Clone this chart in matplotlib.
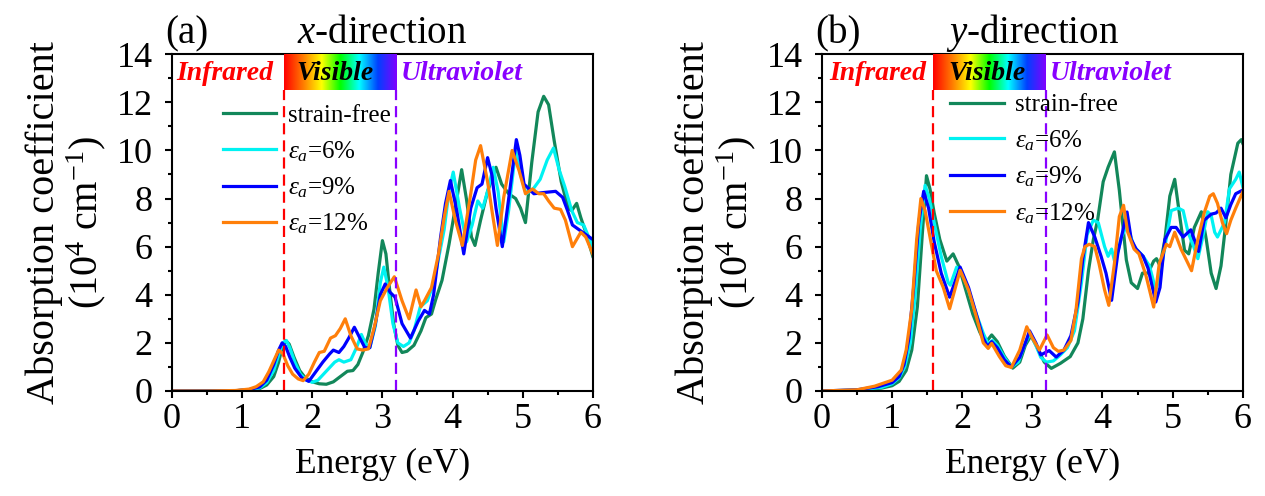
import matplotlib
matplotlib.use("Agg")
import matplotlib.pyplot as plt
import numpy as np
from matplotlib.colors import LinearSegmentedColormap
from matplotlib.ticker import MultipleLocator
from matplotlib.transforms import offset_copy

plt.rcParams["font.family"] = ["Liberation Serif", "DejaVu Serif"]
plt.rcParams["mathtext.fontset"] = "custom"
plt.rcParams["mathtext.rm"] = "Liberation Serif"
plt.rcParams["mathtext.it"] = "Liberation Serif:italic"
plt.rcParams["mathtext.bf"] = "Liberation Serif:bold"

# ---- (a) x-direction ----
ax_sf_e = [0, 0.5, 0.9, 1.1, 1.25, 1.35, 1.45, 1.52, 1.57, 1.62, 1.67, 1.74, 1.82, 1.9, 2.0, 2.1,
           2.2, 2.3, 2.4, 2.5, 2.58, 2.65, 2.72, 2.8, 2.88, 2.94, 3.0, 3.05, 3.1, 3.16, 3.22, 3.28,
           3.35, 3.45, 3.55, 3.62, 3.7, 3.76, 3.85, 3.95, 4.05, 4.13, 4.2, 4.27, 4.32, 4.4, 4.5,
           4.62, 4.7, 4.8, 4.9, 4.97, 5.04, 5.13, 5.22, 5.3, 5.37, 5.45, 5.55, 5.65, 5.7, 5.77,
           5.83, 5.9, 6.0]
ax_sf_a = [0, 0, 0.01, 0.04, 0.1, 0.25, 0.6, 1.2, 1.8, 2.1, 1.95, 1.4, 0.85, 0.55, 0.38, 0.3,
           0.28, 0.38, 0.6, 0.82, 0.85, 1.1, 1.6, 2.3, 3.4, 4.9, 6.25, 5.7, 4.3, 2.8, 1.9, 1.6,
           1.65, 1.9, 2.5, 3.05, 3.2, 3.8, 4.6, 6.1, 7.8, 9.2, 7.95, 6.4, 6.05, 7.1, 8.3,
           9.3, 8.6, 8.2, 8.0, 7.6, 7.0, 9.5, 11.6, 12.25, 11.9, 10.4, 8.7, 7.6, 7.5, 7.8,
           7.2, 6.6, 5.6]

ax_6_e = [0, 0.5, 0.9, 1.1, 1.25, 1.35, 1.45, 1.52, 1.58, 1.63, 1.68, 1.75, 1.83, 1.92, 2.0, 2.08,
          2.16, 2.24, 2.32, 2.38, 2.45, 2.55, 2.63, 2.7, 2.76, 2.82, 2.9, 2.97, 3.02, 3.08, 3.15,
          3.22, 3.3, 3.38, 3.45, 3.54, 3.64, 3.73, 3.8, 3.88, 3.95, 4.01, 4.1, 4.2, 4.28, 4.36,
          4.43, 4.5, 4.58, 4.65, 4.73, 4.8, 4.9, 4.97, 5.05, 5.15, 5.25, 5.35, 5.44, 5.52, 5.6,
          5.7, 5.78, 5.87, 6.0]
ax_6_a = [0, 0, 0.01, 0.05, 0.13, 0.35, 0.85, 1.5, 2.0, 2.1, 1.8, 1.2, 0.7, 0.45, 0.36, 0.45,
          0.7, 0.95, 1.2, 1.3, 1.2, 1.3, 1.8, 2.35, 1.95, 1.8, 2.7, 4.5, 5.15, 4.3, 2.8,
          2.0, 1.85, 2.0, 2.5, 3.5, 3.75, 4.45, 5.5, 6.7, 8.3, 9.1, 7.6, 6.2, 6.9, 7.9,
          7.6, 8.3, 9.3, 8.3, 6.2, 7.5, 10.0, 9.0, 8.2, 8.4, 8.8, 9.6, 10.1, 9.2, 8.5,
          7.5, 7.0, 6.9, 6.0]

ax_9_e = [0, 0.5, 0.9, 1.1, 1.25, 1.35, 1.45, 1.52, 1.57, 1.62, 1.68, 1.75, 1.85, 1.95, 2.05, 2.15,
          2.25, 2.3, 2.38, 2.45, 2.52, 2.6, 2.67, 2.75, 2.82, 2.9, 2.97, 3.04, 3.11, 3.18, 3.28,
          3.4, 3.51, 3.6, 3.67, 3.73, 3.83, 3.9, 3.97, 4.06, 4.16, 4.26, 4.35, 4.42, 4.5, 4.56,
          4.62, 4.71, 4.81, 4.91, 4.96, 5.02, 5.16, 5.3, 5.47, 5.57, 5.64, 5.71, 5.83, 6.0]
ax_9_a = [0, 0, 0.01, 0.06, 0.17, 0.45, 1.1, 1.7, 2.0, 1.85, 1.4, 0.95, 0.55, 0.4, 0.8, 1.2,
          1.55, 1.7, 1.6, 1.85, 2.2, 2.65, 2.25, 1.8, 1.8, 2.8, 4.0, 4.45, 4.1, 3.9, 2.8,
          2.2, 2.9, 3.35, 3.2, 4.0, 6.4, 7.8, 8.75, 7.5, 5.7, 7.6, 8.45, 8.6, 9.7, 9.0,
          7.6, 6.0, 8.2, 10.45, 9.8, 8.6, 8.2, 8.25, 8.3, 8.05, 7.5, 6.9, 6.65, 6.3]

ax_12_e = [0, 0.5, 0.9, 1.1, 1.2, 1.3, 1.38, 1.45, 1.52, 1.58, 1.65, 1.72, 1.8, 1.87, 1.95, 2.03,
           2.1, 2.17, 2.26, 2.33, 2.4, 2.47, 2.55, 2.64, 2.72, 2.8, 2.88, 2.97, 3.07, 3.17, 3.28,
           3.38, 3.48, 3.55, 3.6, 3.7, 3.8, 3.88, 3.95, 4.04, 4.14, 4.26, 4.33, 4.4, 4.5, 4.57,
           4.64, 4.73, 4.85, 4.95, 5.04, 5.14, 5.23, 5.3, 5.37, 5.45, 5.54, 5.61, 5.71, 5.83,
           5.9, 6.0]
ax_12_a = [0, 0, 0.02, 0.08, 0.18, 0.38, 0.8, 1.25, 1.7, 1.55, 1.05, 0.7, 0.5, 0.43, 0.7, 1.2,
           1.6, 1.65, 2.2, 2.3, 2.6, 3.0, 2.3, 1.75, 1.7, 1.75, 2.6, 3.75, 4.3, 4.75, 3.75,
           3.0, 4.2, 3.5, 3.75, 4.3, 5.7, 7.2, 8.3, 7.1, 6.05, 8.2, 9.6, 10.2, 8.7, 7.35,
           6.05, 8.05, 10.0, 9.15, 8.2, 8.4, 8.2, 8.2, 7.9, 7.6, 7.55, 7.1, 6.0, 6.6,
           6.4, 5.7]

# ---- (b) y-direction ----
ay_sf_e = [0, 0.5, 0.85, 1.0, 1.1, 1.2, 1.28, 1.36, 1.43, 1.49, 1.54, 1.6, 1.68, 1.78, 1.87, 1.95,
           2.05, 2.15, 2.25, 2.33, 2.42, 2.5, 2.6, 2.72, 2.82, 2.9, 2.98, 3.07, 3.17, 3.27, 3.4,
           3.54, 3.65, 3.72, 3.8, 3.87, 3.93, 4.01, 4.08, 4.17, 4.24, 4.34, 4.41, 4.5, 4.57, 4.65,
           4.73, 4.77, 4.82, 4.89, 4.96, 5.03, 5.1, 5.17, 5.23, 5.31, 5.41, 5.48, 5.55, 5.62,
           5.69, 5.76, 5.83, 5.93, 5.98, 6.0]
ay_sf_a = [0, 0.03, 0.12, 0.22, 0.4, 0.85, 1.7, 3.5, 6.5, 8.95, 8.4, 7.4, 6.3, 5.4, 5.7, 5.2,
           4.2, 3.2, 2.45, 2.0, 2.33, 2.05, 1.45, 0.95, 1.2, 1.9, 2.3, 1.8, 1.2, 0.94, 1.15,
           1.43, 2.0, 3.0, 5.0, 6.3, 7.1, 8.7, 9.3, 9.94, 8.35, 5.45, 4.5, 4.26, 4.9, 4.9,
           5.4, 5.5, 5.2, 6.3, 8.1, 8.8, 7.3, 5.85, 5.7, 6.8, 7.45, 6.3, 4.9, 4.26,
           5.2, 7.0, 9.0, 10.3, 10.45, 10.3]

ay_6_e = [0, 0.5, 0.85, 1.0, 1.1, 1.18, 1.26, 1.33, 1.4, 1.47, 1.53, 1.6, 1.7, 1.8, 1.83, 1.92,
          2.0, 2.1, 2.2, 2.3, 2.37, 2.43, 2.5, 2.6, 2.7, 2.8, 2.9, 2.97, 3.05, 3.12, 3.2, 3.3,
          3.4, 3.5, 3.6, 3.7, 3.78, 3.87, 3.94, 4.03, 4.08, 4.13, 4.18, 4.27, 4.35, 4.45, 4.58,
          4.67, 4.76, 4.82, 4.89, 4.98, 5.08, 5.15, 5.22, 5.3, 5.36, 5.43, 5.5, 5.55, 5.6, 5.64,
          5.74, 5.81, 5.9, 5.95, 6.0]
ay_6_a = [0, 0.04, 0.15, 0.3, 0.55, 1.0, 2.0, 4.0, 6.7, 8.55, 8.0, 7.0, 5.6, 4.5, 4.4, 5.15,
          4.9, 4.1, 3.2, 2.4, 1.95, 2.1, 1.9, 1.4, 1.0, 1.2, 2.0, 2.4, 1.9, 1.4, 1.2, 1.25,
          1.5, 1.8, 2.5, 4.5, 6.5, 7.1, 7.0, 6.0, 5.6, 5.9, 5.3, 6.4, 6.9, 6.0, 5.6,
          5.2, 4.2, 4.8, 6.0, 7.5, 7.6, 7.5, 6.6, 6.0, 5.5, 6.4, 7.45, 7.3, 6.6, 6.4,
          7.0, 8.4, 8.8, 9.1, 8.5]

ay_9_e = [0, 0.5, 0.8, 1.0, 1.1, 1.17, 1.24, 1.31, 1.38, 1.45, 1.52, 1.6, 1.7, 1.82, 1.97, 2.09,
          2.2, 2.3, 2.36, 2.42, 2.5, 2.6, 2.7, 2.82, 2.9, 2.96, 3.05, 3.12, 3.24, 3.34, 3.45,
          3.55, 3.65, 3.72, 3.8, 3.89, 3.98, 4.05, 4.13, 4.22, 4.35, 4.41, 4.48, 4.58, 4.65, 4.76,
          4.82, 4.89, 4.98, 5.05, 5.15, 5.26, 5.37, 5.45, 5.55, 5.62, 5.69, 5.76, 5.83, 5.9, 6.0]
ay_9_a = [0, 0.05, 0.18, 0.35, 0.6, 1.1, 2.2, 4.4, 7.0, 8.3, 7.6, 6.2, 4.9, 3.9, 5.15, 4.3,
          3.2, 2.2, 1.85, 2.05, 1.8, 1.3, 1.0, 1.4, 2.0, 2.5, 2.0, 1.5, 1.68, 1.41, 1.7,
          2.3, 3.7, 5.5, 7.0, 6.4, 5.6, 4.9, 3.77, 5.75, 7.44, 6.3, 5.9, 5.6, 5.1, 3.7,
          4.3, 6.3, 6.8, 6.8, 6.4, 6.7, 5.8, 7.1, 7.35, 7.4, 7.6, 7.2, 7.75, 8.2, 8.35]

ay_12_e = [0, 0.5, 0.75, 1.0, 1.13, 1.2, 1.28, 1.35, 1.41, 1.47, 1.54, 1.63, 1.73, 1.82, 1.97,
           2.09, 2.2, 2.3, 2.37, 2.42, 2.53, 2.62, 2.7, 2.82, 2.92, 3.0, 3.1, 3.21, 3.3, 3.37,
           3.45, 3.55, 3.62, 3.7, 3.75, 3.81, 3.89, 3.95, 4.03, 4.09, 4.17, 4.24, 4.3, 4.36, 4.45,
           4.52, 4.62, 4.73, 4.81, 4.91, 4.96, 5.03, 5.12, 5.22, 5.27, 5.36, 5.45, 5.53, 5.58,
           5.64, 5.71, 5.77, 5.83, 5.9, 6.0]
ay_12_a = [0, 0.05, 0.2, 0.45, 0.87, 1.7, 3.4, 6.3, 8.0, 7.5, 6.4, 5.0, 4.3, 3.42, 5.02,
           4.2, 3.1, 2.0, 1.77, 1.98, 1.43, 1.05, 0.98, 1.7, 2.67, 2.2, 1.7, 2.33, 1.8, 1.65,
           1.7, 2.1, 3.3, 5.5, 6.0, 6.1, 6.0, 5.3, 4.2, 3.56, 5.3, 7.25, 7.72, 6.6, 5.9,
           5.7, 4.8, 3.49, 5.3, 6.1, 6.0, 6.6, 5.9, 5.3, 5.0, 6.3, 7.4, 8.1, 8.2,
           7.8, 7.0, 6.54, 7.1, 7.6, 8.27]

labels = ["strain-free", r"$\varepsilon_a$=6%", r"$\varepsilon_a$=9%", r"$\varepsilon_a$=12%"]
colors = ["#12875a", "#00f2f2", "#0000ff", "#ff7f0a"]
spectrum_colors = ["#ff0000", "#ff7a00", "#ffff00", "#00ff00", "#00ffff", "#0040ff", "#8000ff"]
ir_edge, uv_edge = 1.59, 3.2

panels = [
    ("(a)", r"$x$-direction",
     [(ax_sf_e, ax_sf_a), (ax_6_e, ax_6_a), (ax_9_e, ax_9_a), (ax_12_e, ax_12_a)],
     0.136, (0.12, 0.85), (0.06, 2.33, 3.26)),
    ("(b)", r"$y$-direction",
     [(ay_sf_e, ay_sf_a), (ay_6_e, ay_6_a), (ay_9_e, ay_9_a), (ay_12_e, ay_12_a)],
     0.6498, (0.305, 0.882), (0.11, 2.36, 3.25)),
]

spec_cmap = LinearSegmentedColormap.from_list("spec", spectrum_colors)

fig = plt.figure(figsize=(12.65, 4.96), dpi=100)
for tag, title, series, left, leg_anchor, txt_x in panels:
    ax = fig.add_axes([left, 0.2117, 0.3326, 0.679])
    for (e, a), lab, c in zip(series, labels, colors):
        ax.plot(e, a, color=c, lw=2.3, label=lab, solid_joinstyle="round")

    ax.imshow(np.linspace(0, 1, 256)[None, :], extent=[ir_edge, uv_edge, 12.5, 14],
              aspect="auto", cmap=spec_cmap, zorder=3)
    ax.plot([ir_edge, ir_edge], [0, 12.5], color="#ff0000", lw=1.6, dashes=(5, 2.7))
    ax.plot([uv_edge, uv_edge], [0, 12.5], color="#8800ff", lw=1.6, dashes=(5, 2.7))
    ax.text(txt_x[0], 13.2, "Infrared", color="#ff0000", fontsize=20,
            fontweight="bold", fontstyle="italic", ha="left", va="center", zorder=4)
    ax.text(txt_x[1], 13.2, "Visible", color="black", fontsize=20,
            fontweight="bold", fontstyle="italic", ha="center", va="center", zorder=4)
    ax.text(txt_x[2], 13.2, "Ultraviolet", color="#8800ff", fontsize=20,
            fontweight="bold", fontstyle="italic", ha="left", va="center", zorder=4)

    ax.set_xlim(0, 6)
    ax.set_ylim(0, 14)
    ax.xaxis.set_major_locator(MultipleLocator(1))
    ax.xaxis.set_minor_locator(MultipleLocator(0.5))
    ax.yaxis.set_major_locator(MultipleLocator(2))
    ax.yaxis.set_minor_locator(MultipleLocator(1))
    ax.tick_params(which="major", direction="out", length=5, width=1.5, labelsize=26, pad=4)
    ax.tick_params(axis="y", which="major", pad=9)
    ax.tick_params(which="minor", direction="out", length=3, width=1.5)
    for sp in ax.spines.values():
        sp.set_linewidth(1.5)

    ax.set_xlabel("Energy (eV)", fontsize=25.5, labelpad=8)
    ax.text(-0.25, 0.5, "Absorption coefficient\n(10$^4$ cm$^{-1}$)", transform=ax.transAxes,
            rotation=90, ha="center", va="center", fontsize=29, linespacing=1.05)
    ax.set_title(title, fontsize=28, pad=8)
    ax.text(-0.017, 1.0, tag, transform=offset_copy(ax.transAxes, fig=fig, y=8, units="points"),
            fontsize=28, ha="left", va="baseline")

    ax.legend(loc="upper left", bbox_to_anchor=leg_anchor, frameon=False, fontsize=18,
              handlelength=2.15, handletextpad=0.45, labelspacing=0.47, borderpad=0,
              borderaxespad=0)

fig.savefig("out.png", dpi=100)
